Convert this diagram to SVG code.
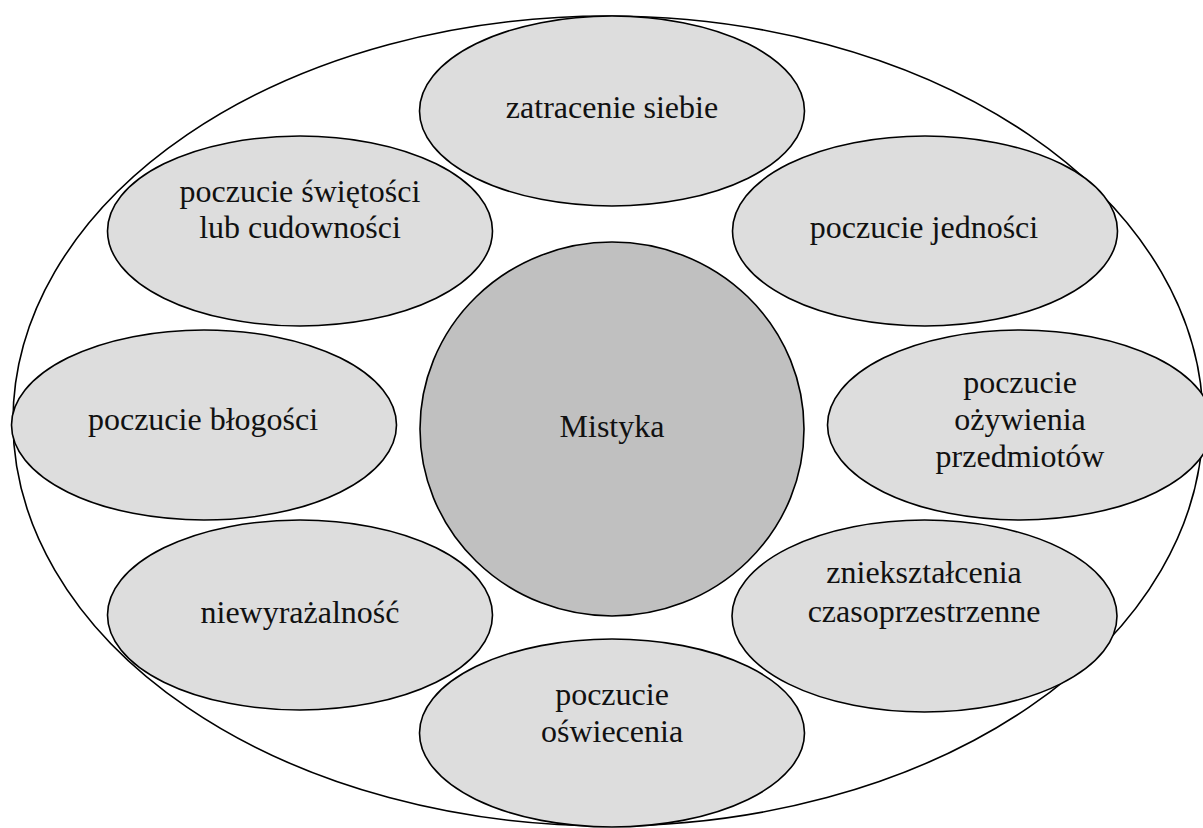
<svg xmlns="http://www.w3.org/2000/svg" width="1203" height="828" viewBox="0 0 1203 828">
<style>
.outer{fill:#ffffff;stroke:#000;stroke-width:1.6}
.sat{fill:#dddddd;stroke:#000;stroke-width:1.6}
.core{fill:#c0c0c0;stroke:#000;stroke-width:1.6}
.t{font-family:'Liberation Serif','DejaVu Serif',serif;font-size:32px;fill:#111;text-anchor:middle}
</style>
<rect width="1203" height="828" fill="#ffffff"/>
<g id="outer"><ellipse class="outer" cx="608" cy="421" rx="595" ry="405"/></g>
<g id="connectors"></g>
<g id="n-zatracenie"><ellipse class="sat" cx="612" cy="111" rx="192.5" ry="95"/><text class="t" font-family="Liberation Serif, serif" x="612" y="118">zatracenie siebie</text></g>
<g id="n-swietosci"><ellipse class="sat" cx="300" cy="231" rx="192.5" ry="95"/><text class="t" font-family="Liberation Serif, serif" x="300" y="202">poczucie świętości</text><text class="t" font-family="Liberation Serif, serif" x="300" y="238">lub cudowności</text></g>
<g id="n-jednosci"><ellipse class="sat" cx="925" cy="231" rx="192.5" ry="95"/><text class="t" font-family="Liberation Serif, serif" x="924" y="238">poczucie jedności</text></g>
<g id="n-blogosci"><ellipse class="sat" cx="204" cy="425" rx="192.5" ry="95"/><text class="t" font-family="Liberation Serif, serif" x="203" y="430">poczucie błogości</text></g>
<g id="n-ozywienia"><ellipse class="sat" cx="1020" cy="425" rx="192.5" ry="95"/><text class="t" font-family="Liberation Serif, serif" x="1020" y="393">poczucie</text><text class="t" font-family="Liberation Serif, serif" x="1020" y="430">ożywienia</text><text class="t" font-family="Liberation Serif, serif" x="1020" y="467">przedmiotów</text></g>
<g id="n-niewyrazalnosc"><ellipse class="sat" cx="300" cy="615" rx="192.5" ry="95"/><text class="t" font-family="Liberation Serif, serif" x="300" y="623">niewyrażalność</text></g>
<g id="n-znieksztalcenia"><ellipse class="sat" cx="924.5" cy="616" rx="192.5" ry="96"/><text class="t" font-family="Liberation Serif, serif" x="924" y="583">zniekształcenia</text><text class="t" font-family="Liberation Serif, serif" x="924" y="622">czasoprzestrzenne</text></g>
<g id="n-oswiecenia"><ellipse class="sat" cx="612" cy="733" rx="192.5" ry="94"/><text class="t" font-family="Liberation Serif, serif" x="612" y="705">poczucie</text><text class="t" font-family="Liberation Serif, serif" x="612" y="742">oświecenia</text></g>
<g id="n-mistyka"><ellipse class="core" cx="612" cy="429" rx="192" ry="187"/><text class="t" font-family="Liberation Serif, serif" x="612" y="437">Mistyka</text></g>
</svg>
